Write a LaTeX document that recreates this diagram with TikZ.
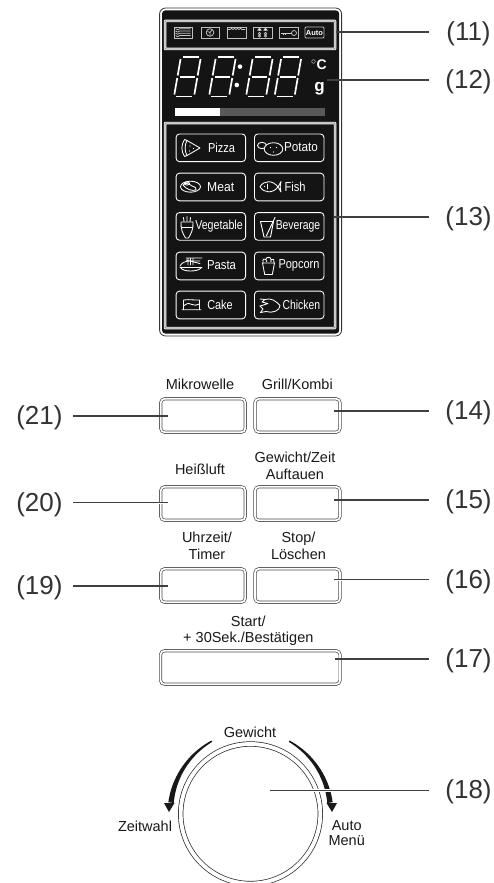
\documentclass[tikz,border=0pt]{standalone}
\usepackage{fontspec}
\setmainfont{Liberation Sans}
\newcommand{\fs}[1]{\fontsize{#1}{#1}\selectfont}
\newcommand{\fitw}[2]{\resizebox{#1pt}{\height}{#2}}
\newcommand{\digitat}[2]{%
  \begin{scope}[shift={(#1,#2)},xslant=0.175,seg]
    \draw (2,-39.5)--(18,-39.5); \draw (2.2,-19.7)--(17.8,-19.7); \draw (2,0)--(18,0);
    \draw (0,-37.5)--(0,-21); \draw (0,-18.5)--(0,-2);
    \draw (20,-37.5)--(20,-21); \draw (20,-18.5)--(20,-2);
  \end{scope}}
\tikzset{
  x=1pt,y=-1pt,
  seg/.style={draw=white,line width=1.7pt,line cap=butt},
  outerpanel/.style={rectangle,draw=black!80,line width=.8pt,rounded corners=6pt,inner sep=0pt,fill=white},
  blackpanel/.style={rectangle,fill=black!92,rounded corners=3pt,inner sep=0pt},
  panelbox/.style={rectangle,draw=white,double=black!60,double distance=.9pt,line width=.8pt,inner sep=0pt,rounded corners=.5pt},
  topicon/.style={rectangle,draw=black!25,line width=.8pt,inner sep=0pt},
  softkey/.style={rectangle,draw=white,line width=.9pt,rounded corners=3.5pt,inner sep=0pt,minimum width=69.5pt,minimum height=27.7pt},
  hardkey/.style={rectangle,draw=black!70,double=white,double distance=1.7pt,line width=.7pt,rounded corners=4pt,inner sep=0pt},
  keytext/.style={text=white,inner sep=0pt,font=\fs{13}},
  small/.style={inner sep=0pt,align=center,font=\fs{14.5},text=black!90},
  num/.style={inner sep=0pt,font=\fs{26},text=black!80},
  lead/.style={draw=black!75,line width=1.3pt},
  dlead/.style={draw=black!75,double=white,double distance=1pt,line width=.6pt},
  ic/.style={draw=white,line width=.85pt,line join=round,line cap=round},
  icg/.style={draw=black!20,line width=.7pt},
  dial/.style={circle,draw=black!85,line width=.7pt,double=white,double distance=3.9pt,inner sep=0pt,minimum size=139.6pt},
}
\begin{document}
\begin{tikzpicture}
\useasboundingbox (0,0) rectangle (493,883);
\clip (0,0) rectangle (493,883);
\fill[white] (0,0) rectangle (493,883);
% panel
\node[outerpanel,minimum width=182pt,minimum height=328pt] (outer) at (250.6,172) {};
\node[blackpanel,minimum width=177pt,minimum height=323pt] (panel) at (250.6,172) {};
\node[panelbox,minimum width=170pt,minimum height=28pt] (iconbox) at (250,35) {};
\node[panelbox,minimum width=170pt,minimum height=205pt] (keybox) at (250,225.5) {};
% top icons
\node[topicon,minimum width=18pt,minimum height=11pt] (i1) at (183,32.5) {};
\node[topicon,minimum width=18pt,minimum height=11pt] (i2) at (210,32.5) {};
\node[topicon,minimum width=19pt,minimum height=11pt] (i3) at (236.5,32.5) {};
\node[topicon,minimum width=19pt,minimum height=11pt] (i4) at (262.5,32.5) {};
\node[topicon,minimum width=19pt,minimum height=11pt] (i5) at (288.5,32.5) {};
\node[topicon,minimum width=19pt,minimum height=11pt,rounded corners=1pt,text=white,font=\fs{7.5}\bfseries] (i6) at (314.5,32.5) {Auto};
\foreach \y in {28.7,31,33.2,35.6}{
  \draw[icg] (175.5,\y) .. controls (177.5,\y+1.5) and (178,\y+1.5) .. (179.5,\y) .. controls (181,\y-1.5) and (182,\y+1.5) .. (183,\y) .. controls (184,\y-1.5) and (185.5,\y+1.5) .. (187,\y) .. controls (188,\y-1.5) and (189,\y+1.5) .. (190.5,\y);}
\draw[icg] (210,32.5) circle (3.8pt);
\draw[icg] (207.5,31.5)--(210,32.5)--(212,30) (210,32.5)--(210,35.8);
\draw[icg] (228,29.5) -- (230,29.5) .. controls (231,28) and (232,28) .. (233,29.5) .. controls (234,28) and (235,28) .. (236,29.5) .. controls (237,28) and (238,28) .. (239,29.5) .. controls (240,28) and (241,28) .. (242,29.5)--(245,29.5);
\foreach \x in {259.5,265.5}{
  \draw[icg,fill=white] (\x-1.6,30.2)--(\x,28)--(\x+1.6,30.2)--cycle;
  \draw[icg] (\x,30)--(\x,31.5);
  \draw[icg] (\x,33.6) circle (1.2pt) (\x,36) circle (1.2pt);}
\draw[icg] (281,33)--(291.5,33) (283,33)--(283,35) (285.5,33)--(285.5,35);
\draw[icg] (294,33) circle (2.5pt);
% digits
\digitat{174}{96.5}
\digitat{209}{96.5}
\digitat{246}{96.5}
\digitat{274.5}{96.5}
\fill[white] (240,66.6) circle (2.3pt) (236.8,85) circle (2.3pt);
\node[text=white,font=\fs{14}\bfseries,inner sep=0pt] (deg) at (319,65) {$^{\circ}$C};
\node[text=white,font=\fs{17}\bfseries,inner sep=0pt] (gram) at (319.5,89) {g};
% bar
\fill[black!65] (220,108) rectangle (325,116);
\fill[white] (175,108) rectangle (220,116);
% soft keys
\node[softkey] (kPizza) at (210.8,147.8) {};
\node[softkey] (kPotato) at (289.2,147.8) {};
\node[softkey] (kMeat) at (210.8,187) {};
\node[softkey] (kFish) at (289.2,187) {};
\node[softkey] (kVeg) at (210.8,226.4) {};
\node[softkey] (kBev) at (289.2,226.4) {};
\node[softkey] (kPasta) at (210.8,266) {};
\node[softkey] (kPop) at (289.2,266) {};
\node[softkey] (kCake) at (210.8,305) {};
\node[softkey] (kChick) at (289.2,305) {};
\node[keytext] (tPizza) at (221.5,147.5) {\fitw{27}{Pizza}};
\node[keytext] (tPotato) at (301,147.5) {\fitw{34}{Potato}};
\node[keytext] (tMeat) at (220.7,186.7) {\fitw{27}{Meat}};
\node[keytext] (tFish) at (295,186.7) {\fitw{21}{Fish}};
\node[keytext] (tVeg) at (219,226.5) {\fitw{47.5}{Vegetable}};
\node[keytext] (tBev) at (298,226.5) {\fitw{44.5}{Beverage}};
\node[keytext] (tPasta) at (221.5,265.5) {\fitw{29}{Pasta}};
\node[keytext] (tPop) at (299,265.5) {\fitw{41}{Popcorn}};
\node[keytext] (tCake) at (220,304.7) {\fitw{25.5}{Cake}};
\node[keytext] (tChick) at (301.3,304.7) {\fitw{37.5}{Chicken}};
% key pictograms
\draw[ic] (187,140.5)--(200,148)--(187,155.5);
\draw[ic] (187,140.5) .. controls (184.5,145) and (184.5,151) .. (187,155.5);
\draw[ic] (184.5,139.5) .. controls (181,145) and (181,151) .. (184.5,156.5) -- (187,155.5) (184.5,139.5)--(187,140.5);
\fill[white] (190,146) circle (.7pt) (189.5,151) circle (.7pt) (193.5,148.5) circle (.7pt);
\draw[ic] (190.5,186.7) ellipse (10pt and 5.5pt);
\draw[ic] (183,185) .. controls (186,182) and (189,184) .. (192,186) .. controls (195,187) and (197,188) .. (196,190) .. controls (192,191) and (187,190) .. (183,185);
\draw[ic] (187,183.5) ellipse (2.5pt and 1.5pt);
% carrot
\draw[ic] (181,222) -- (193,222) .. controls (193.5,229) and (191,234) .. (188.5,238) -- (185.5,238) .. controls (183,234) and (180.5,229) .. (181,222);
\draw[ic] (181.5,227)--(192.5,227);
\draw[ic] (184,221.5)--(183.5,217.5) (187,221.5)--(187,216.5) (190,221.5)--(190.5,217.5);
% potato
\draw[ic] (262,145.5) ellipse (4.5pt and 3.2pt);
\draw[ic,fill=black!92] (273.5,149) ellipse (9.3pt and 6.3pt);
\fill[white] (270.5,147.5) circle (.7pt) (276.5,147.5) circle (.7pt) (273.5,152) circle (.7pt);
% fish
\draw[ic] (260,186.7) .. controls (264,180) and (273,180) .. (278,187) -- (281,181.5) .. controls (280,185) and (280,188) .. (281,192) -- (278,187) .. controls (273,193.5) and (264,193.5) .. (260,186.7);
\fill[white] (264.5,186.5) circle (.7pt);
\draw[ic] (267,184)--(267,189);
% beverage
\draw[ic,line width=.95pt] (260.5,221.5)--(273.5,221.5)--(270.5,237)--(264,237)--cycle;
\draw[ic,line width=.95pt] (266.5,235.5)--(275,217.5);
% pasta
\draw[ic] (180,267.5)--(202,267.5);
\draw[ic] (181,268) .. controls (183,272) and (198,272) .. (201,268);
\draw[ic] (180,266) .. controls (182,262) and (185,262) .. (188,261) -- (200,261);
\draw[ic] (186,258)--(202,258) (186,260)--(200,263.5) (188,258)--(188,265) (190.5,258)--(190.5,265) (193,259)--(193,265);
% popcorn
\draw[ic] (262.5,263)--(274.5,263)--(272.3,274.5)--(264.7,274.5)--cycle;
\draw[ic] (263,262.5) .. controls (262,259) and (265,258) .. (266,259.5) .. controls (266,256.5) and (271,256.5) .. (271,259.5) .. controls (273,258) and (275,260) .. (274,262.5);
\fill[white] (266.5,261) circle (.9pt) (271,261) circle (.9pt);
% cake
\draw[ic] (182,309.7)--(201,309.7) (183.5,309.7)--(183.5,300) .. controls (190,299) and (195,300.5) .. (199.5,300) -- (199.5,309.7);
\draw[ic] (183.5,306) .. controls (187,303) and (190,302.5) .. (192,304.5) .. controls (194,306) and (197,305) .. (199.5,304);
% chicken
\draw[ic] (265,299.5) .. controls (271,297.5) and (276,301) .. (280,305.5) .. controls (280,311) and (272,313.5) .. (266,311.5) -- (260.5,312.5) -- (263,309) -- (260,306);
\draw[ic] (260,299) -- (265,299.5) -- (262,302) -- (268,303.5) -- (262,305.5) -- (260,306);
% hard keys
\node[hardkey,minimum width=84.5pt,minimum height=33.5pt] (bMik) at (203,415.5) {};
\node[hardkey,minimum width=85pt,minimum height=33.5pt] (bGrill) at (297.5,415.5) {};
\node[hardkey,minimum width=84.5pt,minimum height=33.5pt] (bHeiss) at (203,503.5) {};
\node[hardkey,minimum width=85pt,minimum height=33.5pt] (bGew) at (297.5,503.5) {};
\node[hardkey,minimum width=84.5pt,minimum height=33.5pt] (bUhr) at (203,585.5) {};
\node[hardkey,minimum width=85pt,minimum height=33.5pt] (bStop) at (297.5,585.5) {};
\node[hardkey,minimum width=179.5pt,minimum height=33.5pt] (bStart) at (250.3,667.5) {};
\node[small] (sMik) at (200,384) {Mikrowelle};
\node[small] (sGrill) at (297.3,384) {Grill/Kombi};
\node[small] (sHeiss) at (200,469) {Heißluft};
\node[small] (sGew) at (295,466) {Gewicht/Zeit\\[3pt]Auftauen};
\node[small] (sUhr) at (207,546) {Uhrzeit/\\[3pt]Timer};
\node[small] (sStop) at (298.5,546) {Stop/\\[3pt]Löschen};
\node[small] (sStart) at (248.3,631) {Start/\\[1.5pt]+ 30Sek./Bestätigen};
% dial
\node[dial] (dialn) at (250.5,813.8) {};
\node[small] (sGewicht) at (250,732.7) {Gewicht};
\node[small] (sZeit) at (145,826) {Zeitwahl};
\node[small] (sAuto) at (346.7,833) {Auto\\[1pt]Menü};
\foreach \s in {1,-1}{
  \fill[black!90] plot[domain=118:172,samples=30] ({250.5+\s*83*cos(\x)},{813.8-83*sin(\x)}) -- plot[domain=172:118,samples=30] ({250.5+\s*(81.5-4*(\x-118)/54)*cos(\x)},{813.8-(81.5-4*(\x-118)/54)*sin(\x)}) -- cycle;
  \fill[black!90] ({250.5+\s*(-86.5)},803) -- ({250.5+\s*(-76)},803) -- ({250.5+\s*(-81.5)},812) -- cycle;
}
% numbers
\node[num] (n11) at (468.5,33.5) {(11)};
\node[num] (n12) at (468.5,81.5) {(12)};
\node[num] (n13) at (468.5,218.5) {(13)};
\node[num] (n14) at (468.5,412.5) {(14)};
\node[num] (n15) at (468.5,502) {(15)};
\node[num] (n16) at (468.5,581.5) {(16)};
\node[num] (n17) at (468.5,660.5) {(17)};
\node[num] (n18) at (468.5,792) {(18)};
\node[num] (n21) at (39.4,417.5) {(21)};
\node[num] (n20) at (39.4,504.5) {(20)};
\node[num] (n19) at (39.4,587.5) {(19)};
% leader ends
\coordinate (e11) at (429,32);
\coordinate (s11) at (336,32);
\coordinate (e12) at (429,80);
\coordinate (s12) at (327,80);
\coordinate (e13) at (429,217);
\coordinate (s13) at (334,217);
\coordinate (e14) at (429,411);
\coordinate (s14) at (334,411);
\coordinate (e15) at (429,500);
\coordinate (s15) at (334,500);
\coordinate (e16) at (429,580);
\coordinate (s16) at (334,580);
\coordinate (e17) at (429,659);
\coordinate (s17) at (334.5,659);
\coordinate (e18) at (429,790.7);
\coordinate (s18) at (270,790.7);
\coordinate (e21) at (73,416);
\coordinate (s21) at (168,416);
\coordinate (e20) at (73,503);
\coordinate (s20) at (168,503);
\coordinate (e19) at (73,586);
\coordinate (s19) at (168,586);
\draw[draw=white,line width=3pt] (s18) -- (e18);
\draw[lead] (s11) -- (e11);
\draw[lead] (s12) -- (e12);
\draw[lead] (s13) -- (e13);
\draw[lead] (s14) -- (e14);
\draw[lead] (s15) -- (e15);
\draw[dlead] (s16) -- (e16);
\draw[lead] (s17) -- (e17);
\draw[lead] (s18) -- (e18);
\draw[lead] (s21) -- (e21);
\draw[dlead] (s20) -- (e20);
\draw[lead] (s19) -- (e19);
\end{tikzpicture}
\end{document}
